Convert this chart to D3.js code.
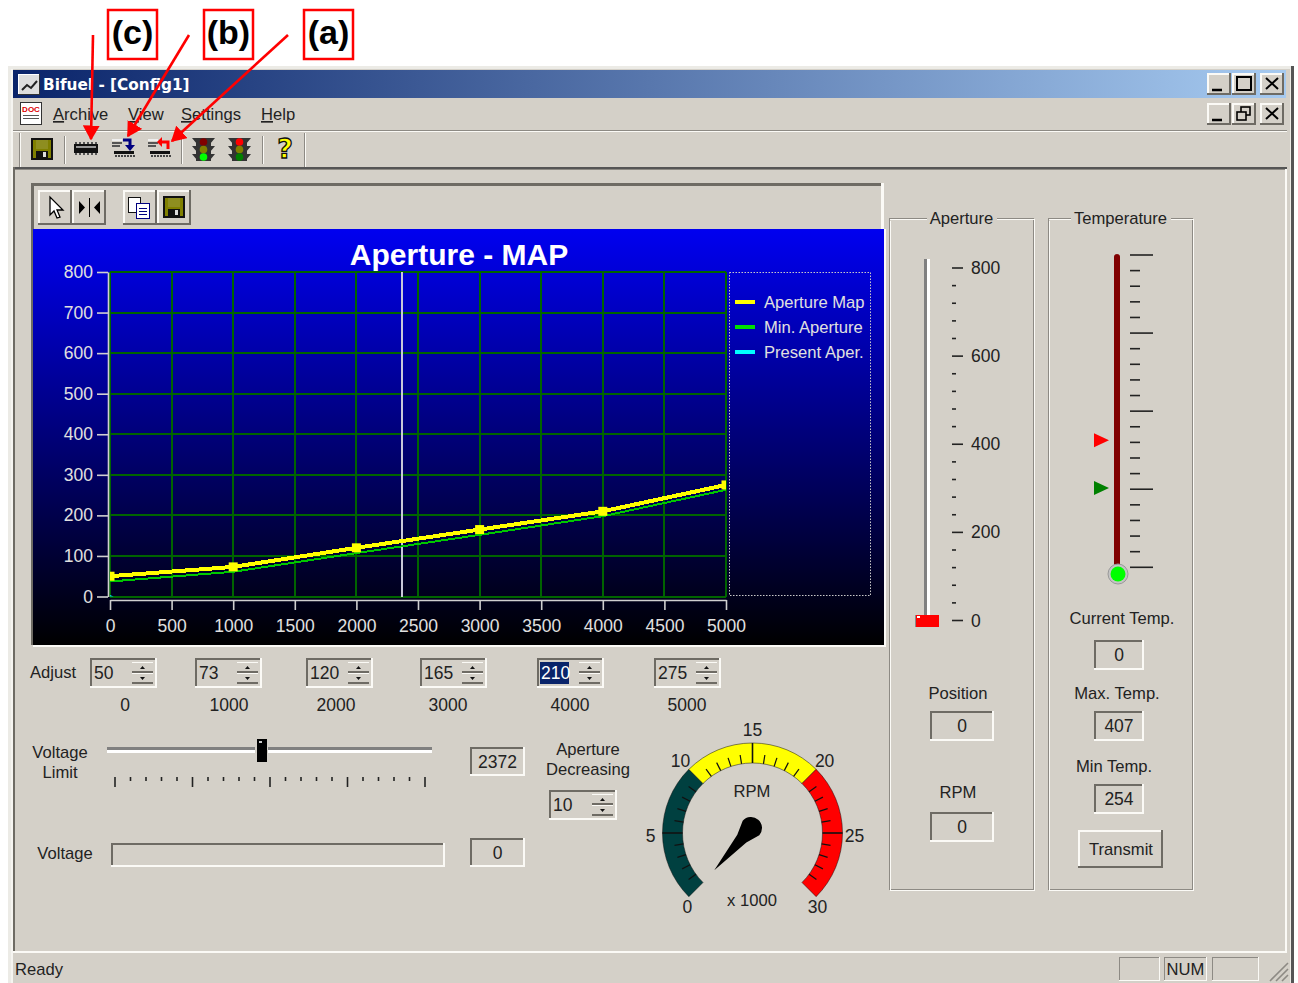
<!DOCTYPE html>
<html>
<head>
<meta charset="utf-8">
<title>Bifuel</title>
<script src="https://cdnjs.cloudflare.com/ajax/libs/d3/7.8.5/d3.min.js"></script>
<style>
body { margin: 0; background: #fff; }
svg { display: block; }
text { font-family: "Liberation Sans", Arial, sans-serif; font-size: 16.6px; fill: #222; }
</style>
</head>
<body>
<svg width="1298" height="983"></svg>
<script>
// chart data
var rpmPoints = [0, 1000, 2000, 3000, 4000, 5000];
var apertureMap = [50, 73, 120, 165, 210, 275];
var minAperture = [37, 61, 107, 152, 198, 263];
var presentAper = [0, 4];
var presentRpm = [0, 30];
var currentRpm = 2372;
var xTicks = [0, 500, 1000, 1500, 2000, 2500, 3000, 3500, 4000, 4500, 5000];
var yTicks = [0, 100, 200, 300, 400, 500, 600, 700, 800];
var legendNames = ["Aperture Map", "Min. Aperture", "Present Aper."];
var legendColors = ["#ffff00", "#00e000", "#00ffff"];

var adjustValues = ["50", "73", "120", "165", "210", "275"];
var adjustLabels = ["0", "1000", "2000", "3000", "4000", "5000"];
var adjustLeft = [90, 195, 306, 420, 537, 654];
var adjustLabelX = [125, 229, 336, 448, 570, 687];

var apertureTicks = [0, 200, 400, 600, 800];
var gaugeLabels = [0, 5, 10, 15, 20, 25, 30];
var gaugeBands = [[0, 10, "#004040"], [10, 20, "#ffff00"], [20, 30, "#ff0000"]];
var maxTemp = 407, minTemp = 254;

var face = "#d4d0c8", dark = "#6e6b64", shadow = "#808080", light = "#fbfaf6";
var svg = d3.select("svg");

function box(x, y, w, h, c, parent) {
  return (parent || svg).append("rect").attr("x", x).attr("y", y).attr("width", w).attr("height", h)
    .attr("fill", c).attr("shape-rendering", "crispEdges");
}
function lab(x, y, s, anchor, parent) {
  var t = (parent || svg).append("text").attr("x", x).attr("y", y).attr("text-anchor", anchor || "middle").text(s);
  if (/^\d+$/.test(String(s))) t.style("font-size", "17.5px"); // digits run wider than the letters
  return t;
}
// 3d edges
function bevel(x, y, w, h, tl, br, t) {
  t = t || 2;
  box(x, y, w, t, tl); box(x, y, t, h, tl);
  box(x, y + h - t, w, t, br); box(x + w - t, y, t, h, br);
}
function sunken(x, y, w, h) { box(x, y, w, h, face); bevel(x, y, w, h, dark, light); }
function raised(x, y, w, h) { box(x, y, w, h, face); bevel(x, y, w, h, light, dark); }
function valueBox(x, y, w, h, s) {
  sunken(x, y, w, h);
  lab(x + w / 2, y + h / 2 + 6, s);
}
function spinner(x, y, w, h, s, selected) {
  sunken(x, y, w, h);
  if (selected) box(x + 3, y + 4, 29, h - 8, "#0a246a");
  var t = lab(x + 4, y + h / 2 + 6, s, "start");
  if (selected) t.style("fill", "#fff");
  var bx = x + w - 25;
  [0, 1].forEach(function (i) {
    var by = y + 4 + i * 11;
    box(bx, by, 21, 10, face);
    box(bx, by, 21, 1, light);
    box(bx, by + 9, 21, 2, dark);
    svg.append("path").attr("fill", "#111")
      .attr("d", i == 0 ? "M" + (bx + 8) + "," + (by + 7) + "h5l-2.5,-3z" : "M" + (bx + 8) + "," + (by + 4) + "h5l-2.5,3z");
  });
}

// window frame
box(8, 66, 1285, 917, "#ecebe6");
box(1291, 66, 3, 917, "#555");
box(11, 69, 1279, 914, face);
box(11, 69, 2, 914, "#f6f5f1");
var defs = svg.append("defs");
var tg = defs.append("linearGradient").attr("id", "titleGrad");
tg.append("stop").attr("offset", "0%").attr("stop-color", "#0a246a");
tg.append("stop").attr("offset", "100%").attr("stop-color", "#a6caf0");
var bg = defs.append("linearGradient").attr("id", "plotGrad").attr("x2", 0).attr("y2", 1);
bg.append("stop").attr("offset", "0%").attr("stop-color", "#0000f0");
bg.append("stop").attr("offset", "100%").attr("stop-color", "#000000");
box(13, 70, 1273, 28, "url(#titleGrad)");
svg.append("text").attr("x", 43).attr("y", 90).text("Bifuel - [Config1]")
  .style("font-family", "'DejaVu Sans'").style("font-weight", "bold").style("font-size", "15.3px").style("fill", "#fff");

// title bar icon
box(18, 74, 22, 21, "#ddd"); bevel(18, 74, 22, 21, "#fff", "#333", 1);
svg.append("path").attr("d", "M22,90l5,-5l4,3l6,-7").attr("fill", "none").attr("stroke", "#222").attr("stroke-width", 2);

// window buttons
function winBtn(x, y, kind) {
  raised(x, y, 24, 22);
  var g = svg.append("g").attr("fill", "none").attr("stroke", "#000").attr("stroke-width", 2);
  if (kind == "min") g.append("path").attr("d", "M" + (x + 5) + "," + (y + 17) + "h10").attr("stroke-width", 2.5);
  if (kind == "max") g.append("rect").attr("x", x + 5).attr("y", y + 4).attr("width", 14).attr("height", 13);
  if (kind == "close") g.append("path").attr("d", "M" + (x + 6) + "," + (y + 5) + "l12,11m0,-11l-12,11");
  if (kind == "restore") {
    g.attr("stroke-width", 1.6);
    g.append("rect").attr("x", x + 9).attr("y", y + 4).attr("width", 9).attr("height", 8);
    g.append("rect").attr("x", x + 5).attr("y", y + 9).attr("width", 9).attr("height", 8).attr("fill", face);
  }
}
winBtn(1207, 73, "min"); winBtn(1232, 73, "max"); winBtn(1260, 73, "close");
winBtn(1207, 103, "min"); winBtn(1232, 103, "restore"); winBtn(1260, 103, "close");

// menu bar
box(20, 102, 22, 23, "#fff"); bevel(20, 102, 22, 23, "#333", "#333", 1);
var docT = lab(31, 112, "DOC"); docT.style("font-size", "8px").style("font-weight", "bold").style("fill", "#d00");
box(23, 115, 16, 1, "#555"); box(23, 118, 16, 1, "#555");
var menuItems = [["Archive", 53], ["View", 128], ["Settings", 181], ["Help", 261]];
menuItems.forEach(function (m) {
  var t = svg.append("text").attr("x", m[1]).attr("y", 120);
  t.append("tspan").style("text-decoration", "underline").text(m[0][0]);
  t.append("tspan").text(m[0].slice(1));
});
box(13, 130, 1274, 1, "#8d8a84"); box(13, 131, 1274, 1, "#fbfaf6");

// main toolbar
function vsep(x, y, h) { box(x, y, 1, h, "#8d8a84"); box(x + 1, y, 1, h, "#fbfaf6"); }
vsep(19, 133, 34); vsep(64, 136, 28); vsep(181, 136, 28); vsep(262, 136, 28); vsep(304, 133, 34);

function floppy(x, y) {
  box(x, y, 22, 22, "#111");
  box(x + 2, y + 2, 18, 18, "#808000");
  box(x + 5, y + 2, 12, 9, "#8e8e20");
  box(x + 5, y + 13, 12, 7, "#111");
  box(x + 12, y + 14, 3, 5, "#ddd");
}
function chip(x, y) {
  box(x, y + 5, 24, 9, "#111");
  box(x + 2, y + 7, 20, 2, "#999");
  d3.range(0, 6).forEach(function (i) {
    box(x + 1 + i * 4, y + 3, 2, 2, "#555");
    box(x + 1 + i * 4, y + 14, 2, 2, "#555");
  });
}
function lights(x, y, on) {
  box(x + 4, y, 15, 23, "#333");
  [0, 8, 16].forEach(function (dy) {
    svg.append("path").attr("fill", "#333").attr("d", "M" + x + "," + (y + dy) + "l5,0v6zM" + (x + 23) + "," + (y + dy) + "l-5,0v6z");
  });
  var cols = on == 2 ? ["#800000", "#808000", "#00ff00"] : ["#ff0000", "#808000", "#008000"];
  cols.forEach(function (c, i) {
    svg.append("circle").attr("cx", x + 11.5).attr("cy", y + 4 + i * 7.5).attr("r", 3.8).attr("fill", c);
  });
}
floppy(31, 138);
chip(74, 139);
// load / store icons
function xfer(x, y, c, up) {
  box(x, y + 2, 10, 2, "#eee"); box(x, y + 5, 10, 2, "#555"); box(x, y + 8, 8, 2, "#555");
  box(x + 2, y + 14, 20, 3, "#111");
  d3.range(0, 7).forEach(function (i) { box(x + 3 + i * 3, y + 18, 2, 2, "#444"); });
  var s = svg.append("path").attr("fill", "none").attr("stroke", c).attr("stroke-width", 3);
  if (up) {
    s.attr("d", "M" + (x + 20) + "," + (y + 12) + "v-7h-7");
    svg.append("path").attr("fill", c).attr("d", "M" + (x + 14) + "," + y + "v10l-5,-5z");
  } else {
    s.attr("d", "M" + (x + 11) + "," + (y + 3) + "h7v7");
    svg.append("path").attr("fill", c).attr("d", "M" + (x + 13) + "," + (y + 8) + "h10l-5,6z");
  }
}
xfer(112, 137, "#000080", false);
xfer(148, 137, "#ff0000", true);
lights(192, 138, 2);
lights(228, 138, 1);
var q = lab(285, 158, "?");
q.style("font-family", "'DejaVu Sans'").style("font-size", "27px").style("font-weight", "bold").style("fill", "#ffff00").style("stroke", "#111").style("stroke-width", "1.3px");

// client area
box(13, 167, 1274, 2, "#555");
box(13, 169, 1274, 1, "#8d8a84");
box(13, 167, 2, 786, "#6e6b64");
box(1285, 169, 2, 784, "#fbfaf6");
box(13, 951, 1274, 2, "#fbfaf6");

// chart toolbar
box(31, 183, 853, 3, dark); box(31, 183, 3, 46, dark); box(881, 183, 3, 46, "#fbfaf6");
function toolBtn(x) { raised(x, 190, 34, 35); }
toolBtn(38); toolBtn(72); toolBtn(123); toolBtn(157);
svg.append("path").attr("d", "M50,197v18l4,-4l3,7l3,-1l-3,-7h6z").attr("fill", "#fff").attr("stroke", "#000").attr("stroke-width", 1.3);
svg.append("path").attr("d", "M79,201v13l6,-6.5zM100,201v13l-6,-6.5z").attr("fill", "#000");
box(89, 198, 1, 19, "#000");
box(128, 197, 13, 16, "#fff"); bevel(128, 197, 13, 16, "#111", "#111", 1);
box(136, 203, 14, 16, "#fff"); bevel(136, 203, 14, 16, "#000080", "#000080", 1);
box(139, 208, 8, 1, "#000080"); box(139, 211, 8, 1, "#000080"); box(139, 214, 8, 1, "#000080");
floppy(163, 196);

// ---- plot ----
var x = d3.scaleLinear().domain([0, 5000]).range([110, 726]);
var y = d3.scaleLinear().domain([0, 800]).range([596.5, 272]);

box(33, 229, 851, 416, "url(#plotGrad)");
box(31, 229, 2, 416, dark);
box(33, 645, 852, 2, "#fbfaf6");
box(884, 229, 2, 418, "#fbfaf6");

var title = lab(459, 265, "Aperture - MAP");
title.style("font-weight", "bold").style("font-size", "30px").style("fill", "#fff");

var grid = svg.append("g").attr("stroke", "#006400").attr("stroke-width", 2).attr("shape-rendering", "crispEdges");
grid.selectAll(".gx").data(xTicks).join("line").attr("x1", d => x(d)).attr("x2", d => x(d)).attr("y1", y(800)).attr("y2", y(0));
grid.selectAll(".gy").data(yTicks).join("line").attr("x1", x(0)).attr("x2", x(5000)).attr("y1", d => y(d)).attr("y2", d => y(d));

function styleAxis(g) {
  g.selectAll("path,line").attr("stroke", "#d0d0d0").attr("stroke-width", 1.6);
  g.selectAll("text").style("fill", "#e0e0e0").style("font-size", "17.5px");
}
svg.append("g").attr("transform", "translate(108,0)")
  .call(d3.axisLeft(y).tickValues(yTicks).tickSize(11).tickSizeOuter(0).tickPadding(4).tickFormat(d3.format("d")))
  .call(styleAxis);
svg.append("g").attr("transform", "translate(0,600)")
  .call(d3.axisBottom(x).tickValues(xTicks).tickSize(10).tickSizeOuter(0).tickPadding(10).tickFormat(d3.format("d")))
  .call(styleAxis);

// current rpm marker
svg.append("line").attr("x1", x(currentRpm)).attr("x2", x(currentRpm)).attr("y1", y(800)).attr("y2", y(0))
  .attr("stroke", "#c8c8d8").attr("stroke-width", 2).attr("shape-rendering", "crispEdges");

defs.append("clipPath").attr("id", "plotClip").append("rect")
  .attr("x", x(0)).attr("y", y(800)).attr("width", x(5000) - x(0)).attr("height", y(0) - y(800));
var pts = rpmPoints.map((d, i) => [d, apertureMap[i], minAperture[i]]);
var line = d3.line().x(d => x(d[0]));
var plot = svg.append("g").attr("clip-path", "url(#plotClip)");
plot.append("path").datum(pts).attr("fill", "none").attr("stroke", "#00c800").attr("stroke-width", 2)
  .attr("shape-rendering", "crispEdges").attr("d", line.y(d => y(d[2])));
plot.append("path").datum(pts).attr("fill", "none").attr("stroke", "#ffff00").attr("stroke-width", 4)
  .attr("shape-rendering", "crispEdges").attr("d", line.y(d => y(d[1])));
plot.selectAll(".pt").data(pts).join("rect").attr("class", "pt")
  .attr("x", d => x(d[0]) - 4.5).attr("y", d => y(d[1]) - 4.5).attr("width", 9).attr("height", 9).attr("fill", "#ffff00");
// present aperture, only a speck at the origin
svg.append("path").attr("fill", "#00e0f0")
  .attr("d", "M" + x(presentRpm[0]) + "," + y(presentAper[0]) + "V" + y(presentAper[1]) + "L" + x(presentRpm[1]) + "," + y(presentAper[0]) + "Z");

// legend
svg.append("rect").attr("x", 729.5).attr("y", 272.5).attr("width", 141).attr("height", 323)
  .attr("fill", "none").attr("stroke", "#c8c8c8").attr("stroke-dasharray", "1.5 1.5");
legendNames.forEach(function (n, i) {
  box(735, 300 + i * 25, 20, 4, legendColors[i]);
  lab(764, 308 + i * 25, n, "start").style("fill", "#e0e0e0");
});

// ---- adjust row ----
lab(30, 678, "Adjust", "start");
adjustValues.forEach(function (v, i) {
  spinner(adjustLeft[i], 658, 67, 30, v, i == 4);
  lab(adjustLabelX[i], 711, adjustLabels[i]);
});

// ---- voltage limit ----
lab(60, 758, "Voltage"); lab(60, 778, "Limit");
var vs = d3.scaleLinear().domain([0, 5000]).range([115, 425]);
box(107, 747, 325, 3, shadow); box(107, 750, 325, 3, "#fff");
svg.append("g").attr("stroke", "#222").attr("stroke-width", 1.6)
  .selectAll("line").data(d3.range(0, 5001, 250)).join("line")
  .attr("x1", d => vs(d)).attr("x2", d => vs(d)).attr("y1", 777).attr("y2", d => d % 1250 == 0 ? 787 : 781);
box(vs(currentRpm) - 7, 738, 13, 25, face);
box(vs(currentRpm) - 5, 739, 10, 23, "#000");
box(vs(currentRpm) - 3, 741, 3, 2, "#ccc");
valueBox(470, 747, 55, 29, String(currentRpm));

lab(65, 859, "Voltage");
sunken(111, 843, 334, 24);
valueBox(470, 838, 55, 29, "0");

lab(588, 755, "Aperture"); lab(588, 775, "Decreasing");
spinner(549, 790, 68, 30, "10", false);

// ---- rpm gauge ----
var gx = 752.5, gy = 833;
var ga = d3.scaleLinear().domain([0, 30]).range([-135, 135]);
function rad(d) { return ga(d) * Math.PI / 180; }
var gauge = svg.append("g").attr("transform", "translate(" + gx + "," + gy + ")");
var arc = d3.arc().innerRadius(70).outerRadius(90);
gauge.selectAll(".band").data(gaugeBands).join("path").attr("class", "band")
  .attr("fill", d => d[2]).attr("stroke", "#111").attr("stroke-width", 0.5)
  .attr("d", d => arc({ startAngle: rad(d[0]), endAngle: rad(d[1]) }));
gauge.selectAll(".tk").data(d3.range(0, 31).filter(d => d % 10 != 0)).join("line").attr("class", "tk")
  .attr("stroke", "#111").attr("stroke-width", d => d % 5 == 0 ? 1.6 : 1.2)
  .attr("x1", d => 70 * Math.sin(rad(d))).attr("y1", d => -70 * Math.cos(rad(d)))
  .attr("x2", d => (d % 5 == 0 ? 90 : 79) * Math.sin(rad(d))).attr("y2", d => -(d % 5 == 0 ? 90 : 79) * Math.cos(rad(d)));
// end labels sit closer in than the others
function labelX(d) { return d == 0 || d == 30 ? 92 : 102; }
function labelY(d) { return d == 0 || d == 30 ? 101 : 106; }
gauge.selectAll(".gl").data(gaugeLabels).join("text").attr("class", "gl").attr("text-anchor", "middle")
  .style("font-size", "17.5px")
  .attr("x", d => labelX(d) * Math.sin(rad(d))).attr("y", d => -labelY(d) * Math.cos(rad(d)) + 9).text(d => d);
lab(752, 797, "RPM");
lab(752, 906, "x 1000");
// needle sits at rpm 0
var needle = svg.append("g").attr("transform", "translate(751,828) rotate(" + (180 + ga(0) - 4) + ")");
needle.append("path").attr("fill", "#000").attr("d", "M-11,0A11,11 0 0 1 11,0L6,14L0,56L-6,14Z");

// ---- aperture group ----
function groupBox(x0, y0, w, h, s, tw) {
  bevel(x0, y0, w, h, "#8d8a84", "#8d8a84", 1);
  bevel(x0 + 1, y0 + 1, w, h, "#fbfaf6", "#fbfaf6", 1);
  box(x0 + 1, y0 + 2, w - 2, 1, face);
  box(x0 + (w - tw) / 2 - 3, y0 - 4, tw + 6, 8, face);
  lab(x0 + w / 2, y0 + 6, s);
}
groupBox(889, 218, 145, 672, "Aperture", 64);
groupBox(1048, 218, 145, 672, "Temperature", 94);

var ay = d3.scaleLinear().domain([0, 800]).range([620.5, 268]);
box(924, 259, 3, 356, shadow); box(927, 259, 3, 356, "#fff");
box(915, 615, 24, 12, "#ff0000"); box(915, 615, 1, 12, "#888"); box(917, 616, 3, 2, "#fff");
svg.append("g").attr("stroke", "#222").attr("stroke-width", 1.6)
  .selectAll("line").data(d3.range(0, 801, 40)).join("line")
  .attr("x1", 952).attr("x2", d => d % 200 == 0 ? 963 : 956).attr("y1", d => ay(d)).attr("y2", d => ay(d));
apertureTicks.forEach(function (d) { lab(971, ay(d) + 6, d, "start"); });

lab(958, 699, "Position"); valueBox(930, 711, 64, 30, "0");
lab(958, 798, "RPM"); valueBox(930, 812, 64, 30, "0");

// ---- temperature ----
var ty = d3.scaleLinear().domain([0, 1000]).range([567.3, 255]);
svg.append("rect").attr("x", 1114).attr("y", 254).attr("width", 6).attr("height", 320).attr("rx", 3).attr("fill", "#800000");
svg.append("circle").attr("cx", 1118).attr("cy", 574).attr("r", 10).attr("fill", "#c4c4c4").attr("stroke", "#999");
svg.append("circle").attr("cx", 1118).attr("cy", 574).attr("r", 7.5).attr("fill", "#00ff00");
svg.append("g").attr("stroke", "#222").attr("stroke-width", 1.6)
  .selectAll("line").data(d3.range(0, 1001, 50)).join("line")
  .attr("x1", 1130).attr("x2", d => d % 250 == 0 ? 1153 : 1140).attr("y1", d => ty(d)).attr("y2", d => ty(d));
svg.append("path").attr("fill", "#ff0000").attr("d", "M1094," + (ty(maxTemp) - 7) + "l15,7l-15,7z");
svg.append("path").attr("fill", "#008000").attr("d", "M1094," + (ty(minTemp) - 7) + "l15,7l-15,7z");

lab(1122, 624, "Current Temp."); valueBox(1094, 640, 50, 30, "0");
lab(1117, 699, "Max. Temp."); valueBox(1094, 711, 50, 30, String(maxTemp));
lab(1114, 772, "Min Temp."); valueBox(1094, 784, 50, 30, String(minTemp));
raised(1078, 830, 85, 38); lab(1121, 855, "Transmit");

// ---- status bar ----
lab(15, 975, "Ready", "start");
function statusCell(x0, w, s) {
  bevel(x0, 957, w, 24, "#8d8a84", "#fbfaf6", 1);
  if (s) lab(x0 + w / 2, 975, s);
}
statusCell(1119, 41); statusCell(1164, 43, "NUM"); statusCell(1212, 47);
svg.append("path").attr("stroke", "#8d8a84").attr("stroke-width", 1.6).attr("d", "M1270,981L1288,963M1276,981L1288,969M1282,981L1288,975");

// ---- annotations ----
var notes = [["(c)", 108, [93, 35], [91, 139]], ["(b)", 204, [189, 35], [128, 136]], ["(a)", 304, [288, 35], [172, 141]]];
defs.append("marker").attr("id", "head").attr("viewBox", "0 0 10 10").attr("refX", 9).attr("refY", 5)
  .attr("markerWidth", 15).attr("markerHeight", 17).attr("markerUnits", "userSpaceOnUse").attr("orient", "auto")
  .attr("preserveAspectRatio", "none")
  .append("path").attr("d", "M0,0L10,5L0,10Z").attr("fill", "#ff0000");
notes.forEach(function (n) {
  svg.append("rect").attr("x", n[1]).attr("y", 10).attr("width", 49).attr("height", 49)
    .attr("fill", "#fff").attr("stroke", "#ff0000").attr("stroke-width", 2.5);
  lab(n[1] + 24.5, 44, n[0]).style("font-weight", "bold").style("font-size", "34px").style("fill", "#000");
  svg.append("line").attr("x1", n[2][0]).attr("y1", n[2][1]).attr("x2", n[3][0]).attr("y2", n[3][1])
    .attr("stroke", "#ff0000").attr("stroke-width", 2.6).attr("marker-end", "url(#head)");
});
</script>
</body>
</html>
